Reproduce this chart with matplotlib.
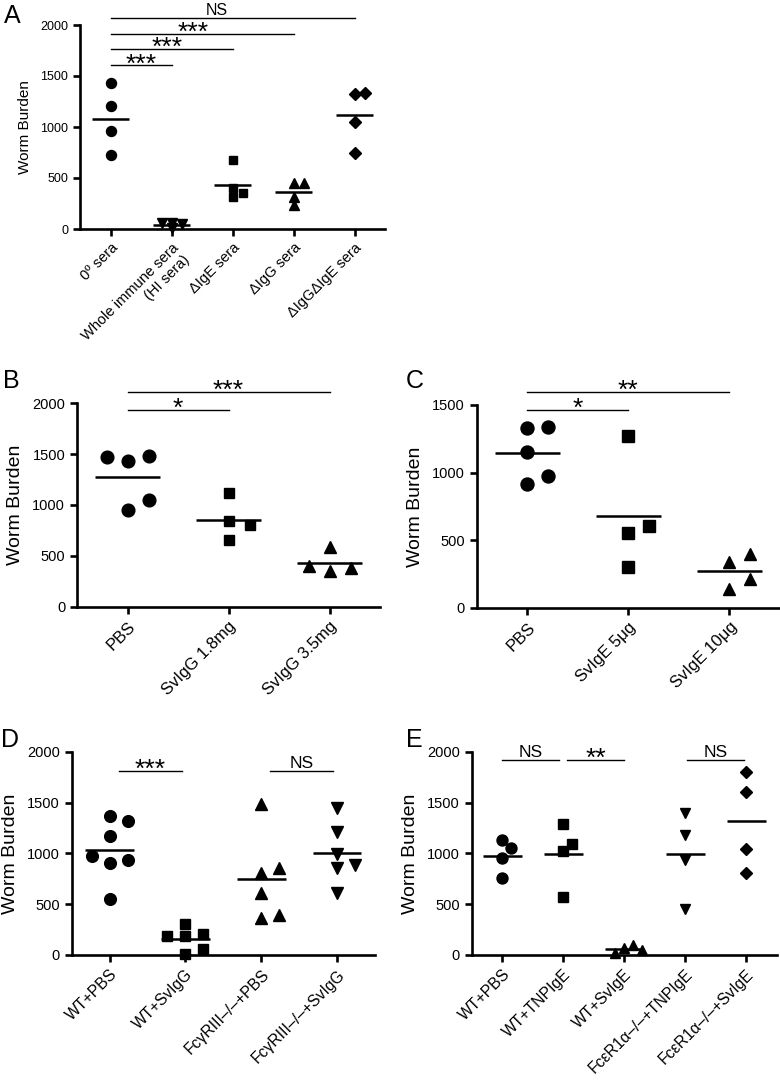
import matplotlib
matplotlib.use('Agg')
import matplotlib.pyplot as plt
import numpy as np

plt.rcParams['font.family'] = ['Liberation Sans', 'DejaVu Sans']

# --- panel A ---
A_LABELS = ['0º sera', 'Whole immune sera\n(HI sera)', 'ΔIgE sera', 'ΔIgG sera', 'ΔIgGΔIgE sera']
A_VALUES = [
    [1435, 1206, 964, 725],
    [55, 45, 60, 5],
    [676, 399, 356, 310],
    [454, 454, 310, 235],
    [1324, 1337, 1052, 742],
]
A_MARKERS = ['o', 'v', 's', '^', 'D']
A_SIG = [(0, 1, '***'), (0, 2, '***'), (0, 3, '***'), (0, 4, 'NS')]

# --- panel B ---
B_LABELS = ['PBS', 'SvIgG 1.8mg', 'SvIgG 3.5mg']
B_VALUES = [
    [1433, 1482, 1475, 951, 1049],
    [1115, 843, 803, 656],
    [585, 355, 385, 400],
]
B_MARKERS = ['o', 's', '^']
B_SIG = [(0, 1, '*'), (0, 2, '***')]

# --- panel C ---
C_LABELS = ['PBS', 'SvIgE 5μg', 'SvIgE 10μg']
C_VALUES = [
    [1327, 1335, 1155, 915, 975],
    [1270, 550, 604, 298],
    [340, 395, 136, 210],
]
C_MARKERS = ['o', 's', '^']
C_SIG = [(0, 1, '*'), (0, 2, '**')]

# --- panel D ---
D_LABELS = ['WT+PBS', 'WT+SvIgG', 'FcγRIII–/–+PBS', 'FcγRIII–/–+SvIgG']
D_VALUES = [
    [1367, 1321, 1171, 902, 935, 974, 551],
    [187, 207, 187, 305, 10, 56],
    [1482, 810, 853, 613, 361, 393],
    [1449, 1213, 994, 859, 885, 607],
]
D_MARKERS = ['o', 's', '^', 'v']
D_SIG = [(0.12, 0.95, '***'), (2.12, 2.95, 'NS')]

# --- panel E ---
E_LABELS = ['WT+PBS', 'WT+TNPIgE', 'WT+SvIgE', 'FcεR1α–/–+TNPIgE', 'FcεR1α–/–+SvIgE']
E_VALUES = [
    [1131, 1056, 957, 761],
    [1289, 1026, 1089, 567],
    [70, 95, 20, 50],
    [1400, 1180, 935, 449],
    [1803, 1607, 1043, 803],
]
E_MARKERS = ['o', 's', '^', 'v', 'D']
E_SIG = [(0, 0.93, 'NS'), (1.07, 2.0, '**'), (3.03, 3.97, 'NS')]

# marker size tweaks so shapes look the same size as circles
SHAPE_SCALE = {'o': 1.0, 's': 0.85, '^': 0.95, 'v': 0.95, 'D': 0.82}


def swarm_x(ax, x, values, step_px, size_px):
    pts = ax.transData.transform(np.column_stack([np.full(len(values), x), values]))
    placed = []
    offsets = []
    for y in pts[:, 1]:
        for k in [0, 1, -1, 2, -2, 3, -3]:
            dx = k * step_px
            if all(np.hypot(dx - px, y - py) >= size_px for px, py in placed):
                break
        placed.append((dx, y))
        offsets.append(dx)
    x0, x1 = ax.get_xlim()
    return x + np.array(offsets) * (x1 - x0) / ax.bbox.width


def draw_panel(fig, rect, labels, values, markers, sig, sig_y, ymax, marker_px, step_px,
               overlap=1.0, fonts=(10.5, 14, 12), ns_size=12.5, mean_half=0.32,
               sig_text_x=None):
    tick_fs, ylab_fs, xlab_fs = fonts
    ax = fig.add_axes(rect)
    n = len(labels)
    ax.set_xlim(-0.5, n - 0.5)
    ax.set_ylim(0, ymax)
    ax.set_yticks(np.arange(0, ymax + 1, 500))
    ax.set_xticks(range(n))
    ax.set_xticklabels(labels, rotation=45, ha='right', rotation_mode='anchor',
                       fontsize=xlab_fs)
    for side in ['top', 'right']:
        ax.spines[side].set_visible(False)
    for side in ['left', 'bottom']:
        ax.spines[side].set_linewidth(1.9)
    ax.tick_params(direction='out', length=5, width=1.9)
    ax.tick_params(axis='y', labelsize=tick_fs)
    ax.set_ylabel('Worm Burden', fontsize=ylab_fs, labelpad=6)

    for i, (vals, m) in enumerate(zip(values, markers)):
        xs = swarm_x(ax, i, vals, step_px, marker_px * overlap)
        ms = marker_px * 0.72 * SHAPE_SCALE[m]
        ax.plot(xs, vals, linestyle='none', marker=m, markersize=ms,
                color='black', clip_on=False, zorder=3)
        ax.hlines(np.mean(vals), i - mean_half, i + mean_half, colors='black',
                  linewidth=1.8, zorder=4)

    for j, ((x0, x1, txt), y) in enumerate(zip(sig, sig_y)):
        ax.plot([x0, x1], [y, y], color='black', linewidth=1.0, clip_on=False)
        tx = (x0 + x1) / 2 if sig_text_x is None else sig_text_x[j]
        if txt == 'NS':
            fs, dy = ns_size, 2
        else:
            fs, dy = 19, -0.23 * 19
        ax.annotate(txt, (tx, y), xytext=(0, dy), textcoords='offset points',
                    ha='center', va='baseline', fontsize=fs, annotation_clip=False)
    return ax


fig = plt.figure(figsize=(7.8, 10.85), dpi=100)
W, H = 780, 1085

draw_panel(fig, [80 / W, 1 - 229 / H, 305 / W, 204 / H], A_LABELS, A_VALUES,
           A_MARKERS, A_SIG, [1605, 1762, 1912, 2072], 2000, 10, 10, overlap=0.5,
           fonts=(9, 11, 10.5), ns_size=11.5, mean_half=0.3,
           sig_text_x=[0.5, 0.93, 1.35, 1.75])
draw_panel(fig, [77 / W, 1 - 606.7 / H, 303 / W, 203.4 / H], B_LABELS, B_VALUES,
           B_MARKERS, B_SIG, [1935, 2115], 2000, 12.7, 21)
draw_panel(fig, [476.7 / W, 1 - 607.7 / H, 303.3 / W, 202.7 / H], C_LABELS, C_VALUES,
           C_MARKERS, C_SIG, [1463, 1599], 1500, 13, 21)
draw_panel(fig, [71.7 / W, 1 - 955 / H, 303.3 / W, 203.3 / H], D_LABELS, D_VALUES,
           D_MARKERS, D_SIG, [1810, 1810], 2000, 11.7, 18, fonts=(10.5, 14, 11.3))
draw_panel(fig, [471.7 / W, 1 - 955 / H, 305 / W, 203.3 / H], E_LABELS, E_VALUES,
           E_MARKERS, E_SIG, [1918, 1918, 1918], 2000, 11, 9, overlap=0.8,
           fonts=(10.5, 14, 11.3))

# panel letters (baseline positions in pixels)
for letter, px, py in [('A', 4, 23), ('B', 3, 388), ('C', 406, 388), ('D', 1, 747), ('E', 406, 747)]:
    fig.text(px / W, 1 - py / H, letter, fontsize=18, ha='left', va='baseline')

fig.savefig('out.png', dpi=100)
